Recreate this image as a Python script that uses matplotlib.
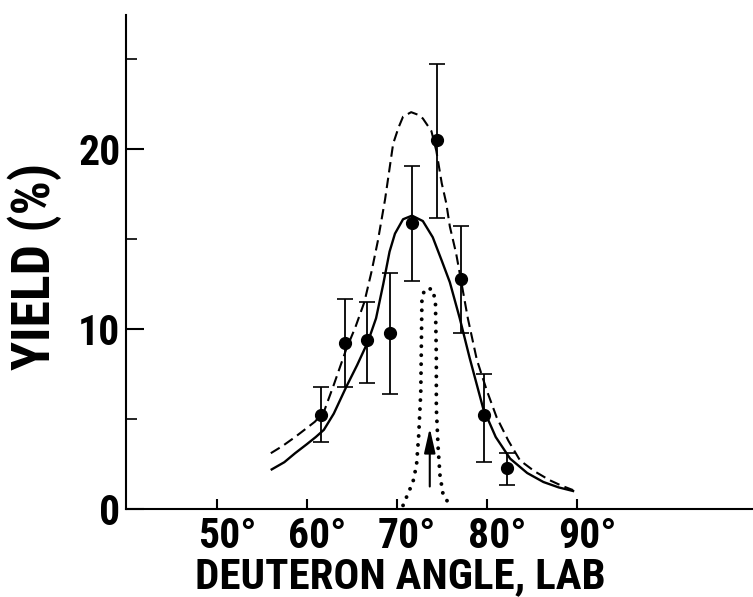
import matplotlib
matplotlib.use("Agg")
import matplotlib.pyplot as plt
from matplotlib import font_manager
from matplotlib.transforms import ScaledTranslation

# measured points with error bars
angle = [61.56, 64.3, 66.7, 69.3, 71.7, 74.5, 77.1, 79.7, 82.3]
yield_pct = [5.2, 9.2, 9.4, 9.8, 15.9, 20.5, 12.8, 5.2, 2.3]
err_hi = [6.8, 11.67, 11.5, 13.1, 19.05, 24.7, 15.7, 7.5, 3.1]
err_lo = [3.75, 6.76, 7.0, 6.4, 12.67, 16.15, 9.8, 2.6, 1.33]

# solid curve
solid_x = [56.1, 57.5, 58.7, 60.0, 61.0, 61.9, 63.0, 64.4, 65.6, 66.8, 67.7, 68.5,
           69.2, 69.8, 70.7, 71.7, 72.9, 74.0, 75.0, 75.9, 77.0, 78.1, 79.6, 81.0,
           82.6, 84.5, 86.3, 88.0, 89.6]
solid_y = [2.2, 2.6, 3.1, 3.6, 4.0, 4.4, 5.3, 6.8, 8.0, 9.3, 10.6, 12.5,
           14.3, 15.3, 16.1, 16.3, 16.0, 15.1, 13.8, 12.6, 10.6, 8.4, 5.6, 4.0,
           2.8, 2.0, 1.5, 1.2, 1.0]

# dashed curve
dash_x = [56.0, 57.3, 58.7, 60.0, 60.9, 61.9, 63.0, 64.4, 65.4, 66.4, 67.2, 67.9,
          68.7, 69.6, 70.2, 70.7, 71.6, 72.4, 72.9, 73.85, 74.4, 75.0, 75.5, 75.9,
          76.6, 77.0, 77.9, 78.9, 80.0, 81.1, 82.4, 83.7, 85.3, 87.0, 88.3, 89.6]
dash_y = [3.1, 3.5, 4.0, 4.5, 4.85, 5.4, 6.9, 8.9, 10.1, 11.5, 13.2, 14.9,
          17.2, 20.3, 21.2, 21.8, 22.05, 21.9, 21.7, 21.0, 19.9, 18.1, 17.0, 15.7,
          14.2, 13.1, 10.6, 8.3, 6.6, 5.1, 3.8, 2.7, 2.1, 1.6, 1.3, 1.05]

# dotted resolution peak
dot_x = [70.7, 71.26, 71.8, 72.2, 72.44, 72.67, 72.74, 72.8, 73.1, 73.5, 74.0,
         74.3, 74.4, 74.4, 74.6, 74.8, 75.15, 75.6, 76.25]
dot_y = [0.2, 0.87, 1.5, 2.45, 4.1, 6.5, 9.3, 11.7, 12.2, 12.25, 12.2,
         11.5, 8.4, 5.6, 3.4, 1.9, 0.8, 0.45, 0.2]

arrow_x = 73.67
arrow_y0, arrow_y1 = 1.25, 4.5

xticks = [50, 60, 70, 80, 90]
xticklabels = ['50°', '60°', '70°', '80°', '90°']
yticks = [0, 10, 20]
yminor = [5, 15, 25]


def pick_font():
    # want a narrow bold sans like the original lettering
    prefs = ['Liberation Sans Narrow', 'Roboto Condensed', 'DejaVu Sans Condensed',
             'Noto Sans Condensed', 'Open Sans Condensed']
    fonts = font_manager.fontManager.ttflist
    for name in prefs:
        for f in fonts:
            if f.name == name and f.weight in ('bold', 700, 'heavy'):
                return font_manager.FontProperties(fname=f.fname)
    for f in fonts:
        narrow = ('condensed' in str(f.stretch) or 'Narrow' in f.name
                  or 'Condensed' in f.name)
        if narrow and f.weight in ('bold', 700):
            return font_manager.FontProperties(fname=f.fname)
    return font_manager.FontProperties(family='DejaVu Sans', weight='bold')


fp = pick_font()

fig = plt.figure(figsize=(7.53, 5.97), dpi=100)
ax = fig.add_axes([0.1673, 0.1474, 0.8327, 0.8275])

ax.plot(solid_x, solid_y, color='k', lw=1.7)
ax.plot(dash_x, dash_y, color='k', lw=1.5, linestyle=(0, (5, 2.6)))
ax.plot(dot_x, dot_y, color='k', lw=2.8, linestyle=(0, (0.01, 2.3)),
        dash_capstyle='round')
ax.errorbar(angle, yield_pct,
            yerr=[[y - lo for y, lo in zip(yield_pct, err_lo)],
                  [hi - y for y, hi in zip(yield_pct, err_hi)]],
            fmt='o', color='k', ms=8.5, elinewidth=1.3, capsize=5.5, capthick=1.2)
ax.annotate('', xy=(arrow_x, arrow_y1), xytext=(arrow_x, arrow_y0),
            arrowprops=dict(arrowstyle='-|>,head_length=0.75,head_width=0.17',
                            color='k', lw=1.5, mutation_scale=20,
                            shrinkA=0, shrinkB=0))

ax.set_xlim(39.9, 109.6)
ax.set_ylim(0, 27.45)
ax.spines['top'].set_visible(False)
ax.spines['right'].set_visible(False)
ax.spines['left'].set_linewidth(1.5)
ax.spines['bottom'].set_linewidth(1.5)

ax.set_xticks(xticks)
ax.set_xticklabels(xticklabels)
ax.set_yticks(yticks)
ax.set_yticks(yminor, minor=True)
ax.tick_params(axis='x', direction='in', length=7.5, width=1.5, pad=5)
ax.tick_params(axis='y', which='major', direction='in', length=13, width=1.5, pad=4)
ax.tick_params(axis='y', which='minor', direction='in', length=8, width=1.2)

xl = ax.set_xlabel('DEUTERON ANGLE, LAB', fontproperties=fp)
ax.xaxis.set_label_coords(0.437, -0.095)
yl = ax.set_ylabel('YIELD (%)', fontproperties=fp, va='center', ha='center')
ax.yaxis.set_label_coords(-0.145, 0.49)

# size the lettering to the widths it has in the original
fig.canvas.draw()
r = fig.canvas.get_renderer()
for txt, size, target, horiz in [(xl, 31, 410, True), (yl, 36, 207, False)]:
    txt.set_fontsize(size)
    bb = txt.get_window_extent(r)
    span = bb.width if horiz else bb.height
    txt.set_fontsize(min(size * target / span, 40))

for lab in ax.get_xticklabels() + ax.get_yticklabels():
    lab.set_fontproperties(fp)
    lab.set_fontsize(30)
# digits sit over the tick, the degree sign hangs to the right
off = ScaledTranslation(7.5 / 72, 0, fig.dpi_scale_trans)
for lab in ax.get_xticklabels():
    lab.set_transform(lab.get_transform() + off)

fig.savefig('out.png', dpi=100)
